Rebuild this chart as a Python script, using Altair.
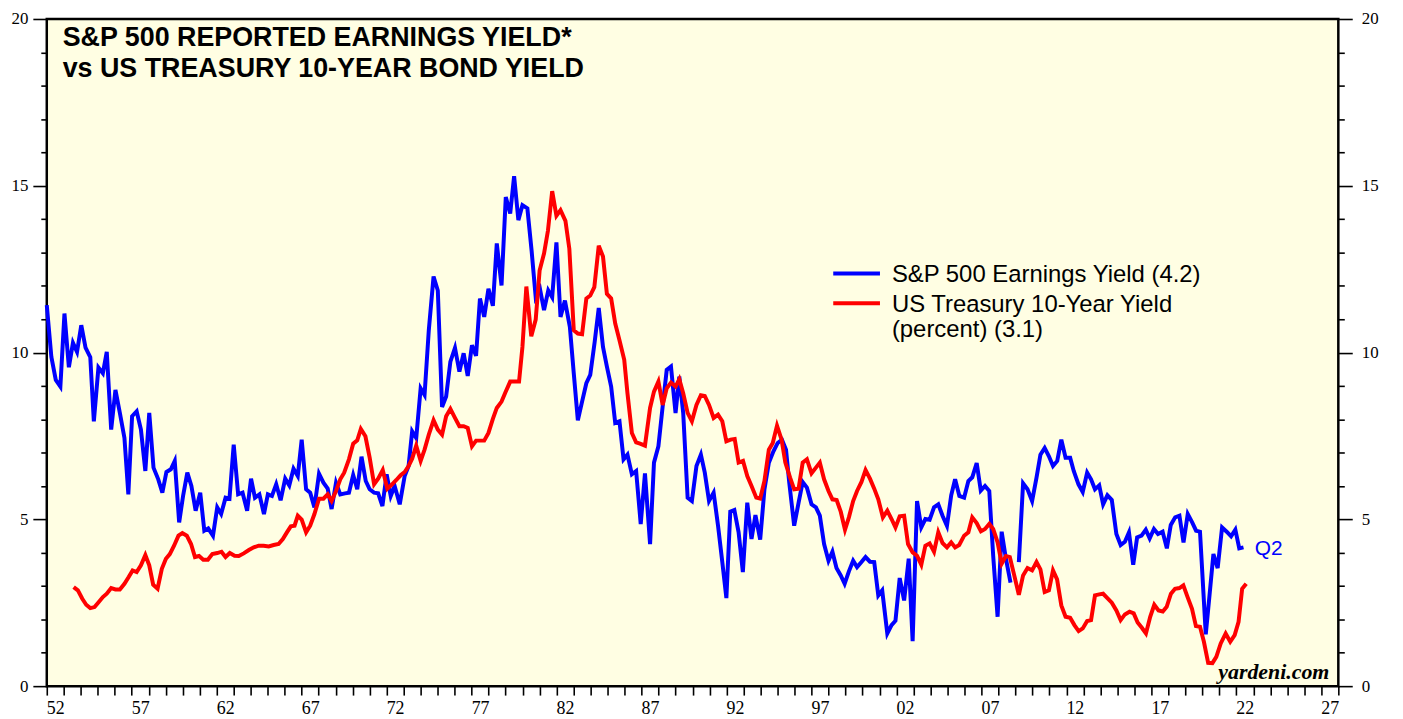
import altair as alt
import pandas as pd

# ---------------- data ----------------
blue_years = [
    1952.00, 1952.27, 1952.53, 1952.80, 1953.04, 1953.30, 1953.54, 1953.78, 1954.03, 1954.28,
    1954.56, 1954.77, 1955.04, 1955.30, 1955.53, 1955.79, 1956.04, 1956.30, 1956.57, 1956.80,
    1957.02, 1957.29, 1957.54, 1957.80, 1958.03, 1958.28, 1958.56, 1958.80, 1959.04, 1959.30,
    1959.53, 1959.79, 1960.02, 1960.27, 1960.51, 1960.76, 1961.03, 1961.27, 1961.50, 1961.78,
    1962.03, 1962.26, 1962.52, 1962.75, 1963.00, 1963.26, 1963.52, 1963.79, 1964.02, 1964.25,
    1964.51, 1964.78, 1965.01, 1965.25, 1965.50, 1965.76, 1966.03, 1966.27, 1966.52, 1966.77,
    1967.00, 1967.26, 1967.50, 1967.75, 1968.02, 1968.28, 1968.53, 1968.76, 1969.02, 1969.27,
    1969.55, 1969.78, 1970.03, 1970.27, 1970.52, 1970.77, 1971.00, 1971.26, 1971.50, 1971.75,
    1972.00, 1972.24, 1972.47, 1972.77, 1973.06, 1973.29, 1973.50, 1973.74, 1974.00, 1974.23,
    1974.48, 1974.76, 1975.01, 1975.26, 1975.50, 1975.75, 1976.02, 1976.28, 1976.53, 1976.77,
    1977.02, 1977.26, 1977.49, 1977.74, 1977.99, 1978.25, 1978.48, 1978.76, 1979.01, 1979.27,
    1979.50, 1979.75, 1979.99, 1980.28, 1980.53, 1980.77, 1981.02, 1981.26, 1981.51, 1981.74,
    1981.99, 1982.23, 1982.49, 1982.78, 1983.01, 1983.25, 1983.50, 1983.75, 1983.98, 1984.24,
    1984.48, 1984.73, 1984.96, 1985.21, 1985.45, 1985.70, 1985.94, 1986.17, 1986.43, 1986.68,
    1986.95, 1987.20, 1987.50, 1987.73, 1987.99, 1988.24, 1988.48, 1988.73, 1989.00, 1989.22,
    1989.45, 1989.71, 1989.96, 1990.23, 1990.49, 1990.72, 1990.97, 1991.24, 1991.50, 1991.75,
    1991.99, 1992.22, 1992.46, 1992.71, 1992.96, 1993.22, 1993.47, 1993.70, 1993.98, 1994.23,
    1994.49, 1994.76, 1995.01, 1995.26, 1995.50, 1995.69, 1995.98, 1996.24, 1996.48, 1996.73,
    1997.00, 1997.26, 1997.49, 1997.74, 1998.00, 1998.23, 1998.47, 1998.72, 1998.95, 1999.20,
    1999.45, 1999.68, 1999.94, 2000.18, 2000.44, 2000.69, 2000.93, 2001.16, 2001.46, 2001.71,
    2001.94, 2002.19, 2002.45, 2002.72, 2002.95, 2003.21, 2003.46, 2003.70, 2003.95, 2004.21,
    2004.46, 2004.71, 2004.97, 2005.22, 2005.45, 2005.70, 2005.98, 2006.23, 2006.46, 2006.72,
    2006.96, 2007.21, 2007.46, 2007.69, 2007.95, 2008.19, 2008.44, 2008.71, 2008.95, 2009.20,
    2009.45, 2009.71, 2009.98, 2010.24, 2010.47, 2010.72, 2010.97, 2011.21, 2011.46, 2011.70,
    2011.95, 2012.22, 2012.43, 2012.71, 2012.96, 2013.22, 2013.45, 2013.68, 2013.93, 2014.16,
    2014.41, 2014.67, 2014.94, 2015.19, 2015.44, 2015.68, 2015.93, 2016.16, 2016.42, 2016.67,
    2016.90, 2017.15, 2017.39, 2017.66, 2017.91, 2018.14, 2018.40, 2018.65, 2018.89, 2019.14,
    2019.40, 2019.63, 2019.86, 2020.20, 2020.41, 2020.65, 2020.90, 2021.16, 2021.43, 2021.69,
    2021.94, 2022.17, 2022.42,
]
blue_vals = [
    11.42, 9.87, 9.18, 8.98, 11.17, 9.56, 10.29, 10.02, 10.82, 10.15,
    9.86, 7.94, 9.55, 9.38, 10.02, 7.69, 8.88, 8.19, 7.44, 5.75,
    8.09, 8.24, 7.69, 6.45, 8.19, 6.55, 6.20, 5.80, 6.42, 6.50,
    6.75, 4.91, 5.70, 6.40, 6.00, 5.26, 5.80, 4.66, 4.73, 4.51,
    5.36, 5.16, 5.65, 5.62, 7.24, 5.75, 5.80, 5.26, 6.22, 5.65,
    5.75, 5.16, 5.75, 5.70, 6.05, 5.57, 6.22, 6.02, 6.52, 6.30,
    7.39, 5.90, 5.80, 5.36, 6.37, 6.10, 5.92, 5.31, 6.10, 5.75,
    5.78, 5.80, 6.33, 5.90, 6.88, 6.15, 5.90, 5.80, 5.78, 5.40,
    6.35, 5.70, 6.00, 5.45, 6.30, 6.60, 7.64, 7.44, 8.93, 8.73,
    10.67, 12.28, 11.86, 8.37, 8.68, 9.73, 10.14, 9.43, 9.98, 9.30,
    10.22, 9.90, 11.62, 11.07, 11.91, 11.40, 13.27, 12.01, 14.66, 14.17,
    15.29, 13.97, 14.42, 14.32, 13.05, 11.66, 11.91, 11.27, 11.86, 11.66,
    13.30, 11.07, 11.56, 10.77, 9.38, 7.97, 8.53, 9.08, 9.33, 10.32,
    11.34, 10.17, 9.58, 8.98, 7.89, 7.94, 6.80, 6.94, 6.35, 6.45,
    4.86, 6.38, 4.26, 6.70, 7.19, 8.38, 9.48, 9.58, 8.19, 9.28,
    8.19, 5.65, 5.55, 6.60, 6.94, 6.40, 5.55, 5.80, 4.81, 3.72,
    2.64, 5.23, 5.28, 4.61, 3.42, 5.50, 4.41, 5.13, 4.39, 5.90,
    6.70, 7.04, 7.29, 7.39, 7.09, 6.10, 4.81, 5.50, 6.12, 5.95,
    5.45, 5.36, 5.11, 4.26, 3.76, 4.03, 3.54, 3.32, 3.07, 3.44,
    3.76, 3.57, 3.72, 3.87, 3.73, 3.72, 2.72, 2.87, 1.58, 1.83,
    1.96, 3.24, 2.57, 3.82, 1.35, 5.55, 4.76, 5.01, 4.99, 5.36,
    5.45, 5.11, 4.81, 5.72, 6.20, 5.70, 5.65, 6.15, 6.26, 6.69,
    5.86, 6.00, 5.85, 3.91, 2.08, 4.63, 3.82, 3.10, None, 3.72,
    6.08, 5.90, 5.55, 6.25, 6.94, 7.14, 6.89, 6.60, 6.75, 7.39,
    6.85, 6.85, 6.45, 6.05, 5.82, 6.40, 6.20, 5.90, 6.02, 5.45,
    5.72, 5.58, 4.56, 4.23, 4.33, 4.61, 3.64, 4.46, 4.51, 4.69,
    4.43, 4.71, 4.56, 4.63, 4.13, 4.83, 5.06, 5.11, 4.31, 5.16,
    4.91, 4.66, 4.63, 1.55, 2.67, 3.96, 3.54, 4.76, 4.63, 4.49,
    4.69, 4.13, 4.16,
]

red_years = [
    1953.58, 1953.83, 1954.09, 1954.32, 1954.56, 1954.81, 1955.06, 1955.30, 1955.53, 1955.79,
    1956.04, 1956.30, 1956.57, 1956.82, 1957.05, 1957.29, 1957.54, 1957.80, 1958.03, 1958.26,
    1958.52, 1958.77, 1959.01, 1959.24, 1959.49, 1959.75, 1959.98, 1960.24, 1960.49, 1960.72,
    1960.96, 1961.21, 1961.48, 1961.74, 1962.03, 1962.28, 1962.52, 1962.77, 1963.05, 1963.30,
    1963.59, 1963.89, 1964.18, 1964.47, 1964.76, 1965.06, 1965.35, 1965.64, 1965.89, 1966.13,
    1966.36, 1966.58, 1966.77, 1967.00, 1967.26, 1967.50, 1967.75, 1968.02, 1968.28, 1968.53,
    1968.76, 1969.02, 1969.27, 1969.50, 1969.78, 1970.03, 1970.27, 1970.48, 1970.75, 1971.00,
    1971.26, 1971.50, 1971.77, 1972.04, 1972.32, 1972.57, 1972.82, 1973.06, 1973.29, 1973.50,
    1973.74, 1974.00, 1974.23, 1974.48, 1974.76, 1975.01, 1975.26, 1975.50, 1975.75, 1976.02,
    1976.28, 1976.53, 1976.77, 1977.02, 1977.26, 1977.49, 1977.74, 1977.99, 1978.25, 1978.48,
    1978.76, 1979.01, 1979.27, 1979.50, 1979.79, 1979.99, 1980.22, 1980.51, 1980.77, 1981.00,
    1981.26, 1981.49, 1981.74, 1981.99, 1982.23, 1982.52, 1982.75, 1983.01, 1983.25, 1983.50,
    1983.75, 1983.98, 1984.22, 1984.48, 1984.73, 1984.96, 1985.21, 1985.45, 1985.70, 1985.98,
    1986.17, 1986.43, 1986.68, 1986.91, 1987.20, 1987.50, 1987.73, 1987.99, 1988.24, 1988.48,
    1988.73, 1989.00, 1989.22, 1989.45, 1989.71, 1989.96, 1990.23, 1990.49, 1990.72, 1990.97,
    1991.24, 1991.50, 1991.75, 1991.99, 1992.24, 1992.48, 1992.71, 1992.97, 1993.22, 1993.47,
    1993.75, 1993.98, 1994.23, 1994.49, 1994.72, 1994.97, 1995.24, 1995.46, 1995.74, 1995.98,
    1996.24, 1996.48, 1996.73, 1997.00, 1997.26, 1997.49, 1997.74, 1998.00, 1998.23, 1998.48,
    1998.72, 1998.97, 1999.20, 1999.45, 1999.68, 1999.94, 2000.18, 2000.44, 2000.69, 2000.93,
    2001.20, 2001.46, 2001.71, 2001.94, 2002.19, 2002.45, 2002.68, 2002.95, 2003.21, 2003.46,
    2003.70, 2003.95, 2004.21, 2004.46, 2004.71, 2004.97, 2005.22, 2005.45, 2005.69, 2005.98,
    2006.23, 2006.46, 2006.72, 2006.97, 2007.21, 2007.46, 2007.69, 2007.95, 2008.19, 2008.44,
    2008.67, 2008.93, 2009.20, 2009.45, 2009.71, 2009.98, 2010.24, 2010.47, 2010.72, 2010.97,
    2011.21, 2011.45, 2011.70, 2011.95, 2012.22, 2012.47, 2012.72, 2012.96, 2013.22, 2013.45,
    2013.68, 2013.93, 2014.16, 2014.41, 2014.67, 2014.94, 2015.19, 2015.44, 2015.71, 2015.96,
    2016.19, 2016.44, 2016.68, 2016.93, 2017.17, 2017.42, 2017.67, 2017.90, 2018.15, 2018.39,
    2018.65, 2018.88, 2019.13, 2019.39, 2019.62, 2019.86, 2020.09, 2020.34, 2020.59, 2020.82,
    2021.08, 2021.37, 2021.64, 2021.90, 2022.13, 2022.34, 2022.58,
]
red_vals = [
    2.97, 2.87, 2.62, 2.44, 2.34, 2.37, 2.52, 2.67, 2.77, 2.94,
    2.90, 2.90, 3.07, 3.27, 3.47, 3.42, 3.62, 3.93, 3.62, 3.04,
    2.92, 3.52, 3.82, 3.96, 4.21, 4.51, 4.59, 4.51, 4.26, 3.87,
    3.90, 3.79, 3.79, 3.96, 3.99, 4.03, 3.87, 3.99, 3.91, 3.90,
    3.98, 4.08, 4.16, 4.21, 4.21, 4.19, 4.23, 4.26, 4.41, 4.61,
    4.79, 4.81, 5.11, 4.99, 4.61, 4.81, 5.16, 5.62, 5.62, 5.75,
    5.55, 5.85, 6.20, 6.40, 6.80, 7.27, 7.37, 7.71, 7.49, 6.85,
    6.05, 6.22, 6.48, 5.92, 6.05, 6.18, 6.32, 6.42, 6.60, 6.82,
    7.21, 6.75, 7.09, 7.54, 7.97, 7.69, 7.54, 8.09, 8.31, 8.04,
    7.79, 7.79, 7.74, 7.19, 7.36, 7.36, 7.36, 7.59, 8.01, 8.34,
    8.53, 8.83, 9.13, 9.13, 9.13, 10.17, 11.98, 10.49, 10.99, 12.46,
    12.97, 13.65, 14.84, 14.10, 14.27, 13.95, 13.11, 10.67, 10.57, 10.55,
    11.62, 11.71, 11.96, 13.20, 12.88, 11.76, 11.62, 10.87, 10.37, 9.78,
    8.78, 7.59, 7.31, 7.27, 7.21, 8.34, 8.83, 9.13, 8.43, 8.93,
    9.10, 8.98, 9.20, 8.78, 8.19, 7.94, 8.43, 8.72, 8.70, 8.43,
    8.04, 8.14, 7.94, 7.34, 7.39, 7.41, 6.70, 6.75, 6.30, 6.00,
    5.65, 5.62, 6.15, 7.09, 7.29, 7.81, 7.39, 6.70, 6.25, 5.90,
    5.92, 6.70, 6.80, 6.38, 6.55, 6.70, 6.20, 5.85, 5.60, 5.58,
    5.23, 4.69, 5.06, 5.55, 5.85, 6.12, 6.48, 6.22, 5.92, 5.60,
    5.06, 5.26, 5.01, 4.76, 5.09, 5.11, 4.26, 4.01, 3.91, 3.64,
    4.21, 4.28, 4.03, 4.61, 4.29, 4.16, 4.31, 4.16, 4.23, 4.51,
    4.61, 5.06, 4.89, 4.64, 4.71, 4.86, 4.71, 4.31, 3.67, 3.90,
    3.87, 3.32, 2.74, 3.32, 3.54, 3.47, 3.72, 3.50, 2.82, 2.87,
    3.47, 3.20, 2.42, 2.08, 2.05, 1.83, 1.65, 1.73, 1.95, 1.98,
    2.72, 2.75, 2.77, 2.64, 2.50, 2.27, 1.98, 2.15, 2.23, 2.18,
    1.91, 1.75, 1.58, 2.08, 2.44, 2.27, 2.24, 2.38, 2.77, 2.92,
    2.94, 3.02, 2.67, 2.32, 1.80, 1.78, 1.33, 0.70, 0.69, 0.88,
    1.28, 1.58, 1.33, 1.53, 1.93, 2.92, 3.07,
]

x_tick_years = list(range(1952, 2029))
y_tick_values = list(range(0, 21))

title_lines = ["S&P 500 REPORTED EARNINGS YIELD*", "vs US TREASURY 10-YEAR BOND YIELD"]
legend_lines = ["S&P 500 Earnings Yield (4.2)", "US Treasury 10-Year Yield", "(percent) (3.1)"]
end_label = "Q2"
source_label = "yardeni.com"

# ---------------- chart ----------------
W, H = 1299, 671
BLUE, RED = "#0000FF", "#FF0000"
SERIF = "Liberation Serif"
SANS = "Liberation Sans"

blue_df = pd.DataFrame({"year": blue_years, "value": blue_vals})
red_df = pd.DataFrame({"year": red_years, "value": red_vals})

x_axis = alt.Axis(
    values=x_tick_years, tickSize=9, tickWidth=1.6, tickColor="black",
    labelExpr="(datum.value - 1952) % 5 === 0 && datum.value < 2028 ? substring(toString(datum.value), 2, 4) : ''",
    labelFont=SERIF, labelFontSize=18, labelColor="black", labelPadding=5,
    labelOffset=8.5, labelOverlap=False, labelBound=False, labelFlush=False,
    domain=False, grid=False, title=None,
)
x_enc = alt.X("year:Q", scale=alt.Scale(domain=[1952, 2028], nice=False, zero=False), axis=x_axis)

tick_size_cond = {"condition": {"test": "datum.value % 5 === 0", "value": 14}, "value": 6}
y_scale = alt.Scale(domain=[0, 20], nice=False, zero=True)

def y_axis(orient):
    return alt.Axis(
        orient=orient, values=y_tick_values, tickSize=tick_size_cond, tickWidth=1.6,
        tickColor="black",
        labelExpr="datum.value % 5 === 0 ? datum.label : ''",
        labelFont=SERIF, labelFontSize=17, labelColor="black",
        labelPadding=5 if orient == "left" else 9,
        labelOverlap=False, labelBound=False, labelFlush=False,
        domain=False, grid=False, title=None,
    )

blue_line = alt.Chart(blue_df).mark_line(
    color=BLUE, strokeWidth=4, invalid="break-paths-filter-domains"
).encode(x=x_enc, y=alt.Y("value:Q", scale=y_scale, axis=y_axis("left")))

red_line = alt.Chart(red_df).mark_line(color=RED, strokeWidth=4).encode(
    x=x_enc, y=alt.Y("value:Q", scale=y_scale, axis=y_axis("right"))
)

def text_layer(txt, x, y, size, color="black", weight="normal", font=SANS, style="normal", align="left"):
    return alt.Chart(pd.DataFrame({"t": [txt]})).mark_text(
        align=align, baseline="alphabetic", font=font, fontSize=size, fontWeight=weight,
        fontStyle=style, color=color,
    ).encode(text="t:N", x=alt.value(x), y=alt.value(y))

title1 = text_layer(title_lines[0], 16, 27, 27, weight="bold")
title2 = text_layer(title_lines[1], 16, 58, 27, weight="bold")

leg_txt1 = text_layer(legend_lines[0], 850, 265, 24)
leg_txt2 = text_layer(legend_lines[1], 850, 295, 24)
leg_txt3 = text_layer(legend_lines[2], 850, 320, 24)

def legend_rule(y, color):
    return alt.Chart(pd.DataFrame({"k": [0]})).mark_rule(color=color, strokeWidth=4).encode(
        x=alt.value(791), x2=alt.value(838), y=alt.value(y)
    )

leg_blue = legend_rule(256, BLUE)
leg_red = legend_rule(286, RED)

q2 = text_layer(end_label, 1215, 539, 21, color=BLUE)
src = text_layer(source_label, 1290, 664, 22, weight="bold", font=SERIF, style="italic", align="right")

chart = alt.layer(
    blue_line, red_line, title1, title2, leg_blue, leg_red, leg_txt1, leg_txt2, leg_txt3, q2, src
).resolve_axis(y="independent").properties(
    width=W, height=H,
    autosize=alt.AutoSizeParams(type="none"),
    padding={"left": 39, "top": 9, "right": 57, "bottom": 31},
    background="white",
).configure_view(
    fill="#FFFEE3", stroke="black", strokeWidth=2.5,
)

chart.save("out.html", embed_options={"renderer": "svg", "actions": False})
